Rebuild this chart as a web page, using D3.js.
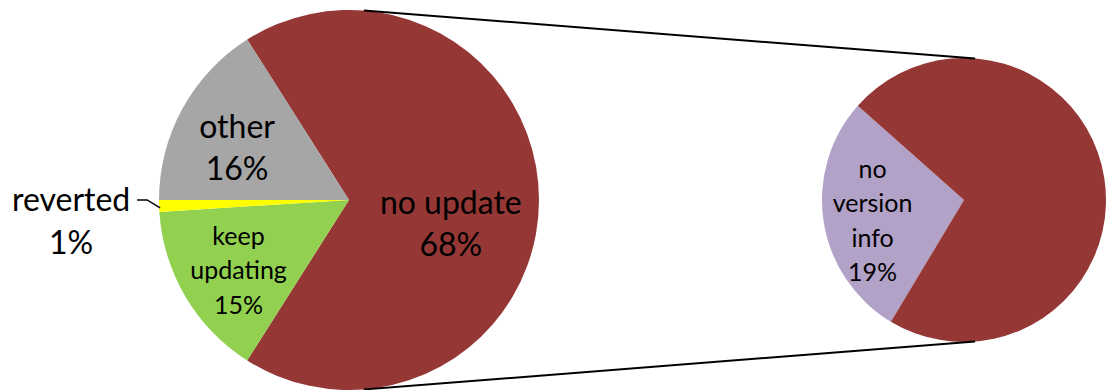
<!DOCTYPE html>
<html>
<head>
<meta charset="utf-8">
<script src="https://cdn.jsdelivr.net/npm/d3@7"></script>
<style>
  html, body { margin: 0; padding: 0; background: #fff; }
  svg { display: block; }
  text { font-family: Lato, "Noto Sans", sans-serif; fill: #000; }
</style>
</head>
<body>
<svg id="chart" width="1107" height="390"></svg>
<script>
// ---- data ----
const categories = ["no update", "keep updating", "reverted", "other"];
const values = [68, 15, 1, 16];
const labelLines = [["no update", "68%"], ["keep", "updating", "15%"], ["reverted", "1%"], ["other", "16%"]];
const subCategories = ["no version info", "no update (rest)"];
const subValues = [19, 49];
const subLabelLines = [["no", "version", "info", "19%"], []];
const colors = ["#953735", "#92D050", "#FFFF00", "#A6A6A6"];
const subColors = ["#B3A2C7", "#953735"];

// ---- layout ----
const W = 1107, H = 390;
const svg = d3.select("#chart");
const deg = Math.PI / 180;

const main = { cx: 349, cy: 200, r: 190 };
const sub = { cx: 964, cy: 200, r: 142 };

const total = d3.sum(values);
const mainStart = Math.PI / 2 - (values[0] / total) * Math.PI;
const pieMain = d3.pie().sort(null).value(d => d)
  .startAngle(mainStart).endAngle(mainStart + 2 * Math.PI);
const arcsMain = pieMain(values);

const subStart = 211 * deg;
const pieSub = d3.pie().sort(null).value(d => d)
  .startAngle(subStart).endAngle(subStart + 2 * Math.PI);
const arcsSub = pieSub(subValues);

const arcGenMain = d3.arc().innerRadius(0).outerRadius(main.r);
const arcGenSub = d3.arc().innerRadius(0).outerRadius(sub.r);

const gMain = svg.append("g").attr("transform", `translate(${main.cx},${main.cy})`);
gMain.selectAll("path").data(arcsMain).join("path")
  .attr("d", arcGenMain)
  .attr("fill", (d, i) => colors[i]);

const gSub = svg.append("g").attr("transform", `translate(${sub.cx},${sub.cy})`);
gSub.selectAll("path").data(arcsSub).join("path")
  .attr("d", arcGenSub)
  .attr("fill", (d, i) => subColors[i]);

// ---- connector lines (external tangents) ----
const dC = sub.cx - main.cx;
const alpha = Math.asin((main.r - sub.r) / dC);
[-1, 1].forEach(s => {
  const x1 = main.cx + main.r * Math.sin(alpha);
  const y1 = main.cy + s * main.r * Math.cos(alpha);
  const x2 = sub.cx + sub.r * Math.sin(alpha);
  const y2 = sub.cy + s * sub.r * Math.cos(alpha);
  svg.append("line")
    .attr("x1", x1).attr("y1", y1).attr("x2", x2).attr("y2", y2)
    .attr("stroke", "#000").attr("stroke-width", 2);
});

// ---- labels ----
function drawBlock(g, lines, cx, cy, size, lh, anchor) {
  const n = lines.length;
  const t = g.append("text")
    .attr("text-anchor", anchor || "middle")
    .attr("font-size", size);
  lines.forEach((ln, i) => {
    t.append("tspan")
      .attr("x", cx)
      .attr("y", cy + (i - (n - 1) / 2) * lh)
      .attr("dy", "0.35em")
      .text(ln);
  });
}

const bigFont = 32, smallFont = 25;
// label placement tweaks: [radius fraction, angle shift (deg), font size, line height]
const mainLabelPlace = [
  [0.55, 13, bigFont, 42],
  [0.69, -2, smallFont, 34.5],
  null,
  [0.65, -3.8, bigFont, 42]
];
arcsMain.forEach((a, i) => {
  const p = mainLabelPlace[i];
  const mid = (a.startAngle + a.endAngle) / 2;
  if (p) {
    const [x, y] = d3.pointRadial(mid + p[1] * deg, main.r * p[0]);
    drawBlock(gMain, labelLines[i], x, y, p[2], p[3]);
  } else {
    // outside label with leader line
    const [ex, ey] = d3.pointRadial(mid, main.r);
    const elbowX = ex - 12, elbowY = ey - 6;
    gMain.append("polyline")
      .attr("points", [[ex + 1, ey + 2], [elbowX, elbowY], [elbowX - 10, elbowY]].map(q => q.join(",")).join(" "))
      .attr("fill", "none").attr("stroke", "#000").attr("stroke-width", 1.5);
    drawBlock(gMain, labelLines[i], elbowX - 10 - 66, elbowY + 21, bigFont, 43);
  }
});

arcsSub.forEach((a, i) => {
  if (!subLabelLines[i].length) return;
  const mid = (a.startAngle + a.endAngle) / 2;
  const [x, y] = d3.pointRadial(mid - 4 * deg, sub.r * 0.66);
  drawBlock(gSub, subLabelLines[i], x, y, smallFont, 34.5);
});
</script>
</body>
</html>
